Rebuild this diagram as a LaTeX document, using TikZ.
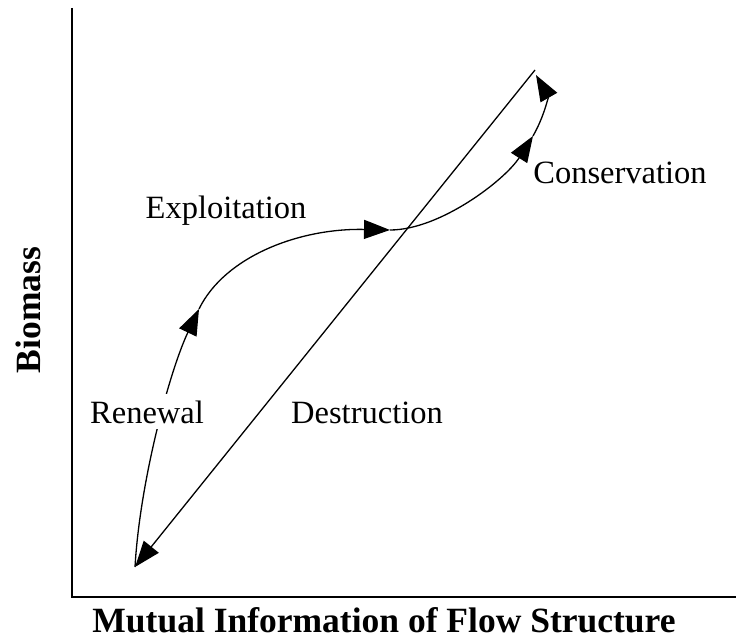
\documentclass[tikz,border=0pt]{standalone}
\usepackage{fontspec}
\setmainfont{Liberation Serif}
\usetikzlibrary{arrows.meta}
\begin{document}
\begin{tikzpicture}[x=1pt,y=-1pt,
  axis/.style={line width=1.7pt},
  flow/.style={line width=1.3pt},
  tri/.style={-{Triangle[length=26pt,width=19pt]}},
  lbl/.style={font=\fontsize{32.5}{39}\selectfont,anchor=base,inner sep=0pt},
  axlbl/.style={font=\fontsize{35.5}{42}\bfseries\selectfont,inner sep=0pt}]
\useasboundingbox (0,0) rectangle (736,644);
% axes
\coordinate (top) at (72,8);
\coordinate (orig) at (72,597);
\coordinate (right) at (736,597);
\draw[axis] (top) -- (orig) -- (right);
% key points
\coordinate (S) at (135,567);
\coordinate (P1) at (199,309);
\coordinate (P2) at (390,230);
\coordinate (P3) at (533,136);
\coordinate (P4) at (536,75);
\coordinate (A) at (535,70);
% adaptive cycle curve
\draw[flow,tri] (S) .. controls (140,480) and (170,370) .. (P1);
\draw[flow,tri] (P1) .. controls (225,256) and (300,228) .. (P2);
\draw[flow,tri] (P2) .. controls (440,230) and (505,180) .. (P3);
\draw[flow,tri] (P3) .. controls (545,115) and (548,96) .. (P4);
% destruction line
\draw[flow,tri] (A) -- (S);
% labels
\node[lbl] (expl) at (226,219) {Exploitation};
\node[lbl] (cons) at (620,184) {Conservation};
\node[lbl,fill=white,inner ysep=6pt,inner xsep=1pt] (ren) at (147,423) {Renewal};
\node[lbl] (dest) at (367,423) {Destruction};
\node[axlbl,anchor=base] (xl) at (384,632) {Mutual Information of Flow Structure};
\node[axlbl,rotate=90] (yl) at (28,310) {Biomass};
\end{tikzpicture}
\end{document}
